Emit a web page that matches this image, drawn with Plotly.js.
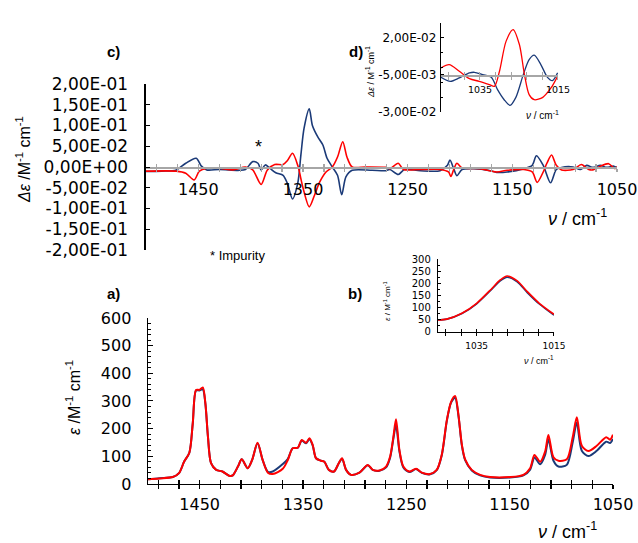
<!DOCTYPE html>
<html><head><meta charset="utf-8">
<script src="https://cdn.plot.ly/plotly-3.0.1.min.js"></script>
<style>html,body{margin:0;padding:0;background:#fff}#chart{width:638px;height:543px}</style>
</head><body><div id="chart"></div>
<script>
// ---------- Panel c (VCD, main) ----------
var c_nu_blue = [1500,1485,1471,1462,1452,1447,1442,1430,1411,1405,1398,1393,1390,1386,1382,1376,1369,1365,1360,1355,1352,1349,1344,1341,1336,1331,1327,1322,1317,1313,1309,1303,1284,1271,1267,1259,1253,1238,1219,1212,1209.6,1206,1203,1198,1187,1171,1165,1155,1139,1131,1127,1120.5,1113.5,1108,1103,1092,1085,1079,1073,1066,1060,1053,1050];
var c_blue = [-0.011,-0.010,-0.007,0.009,0.021,0.002,-0.007,-0.006,-0.008,-0.006,0.013,0.009,-0.007,0.005,-0.002,-0.014,-0.020,-0.039,-0.077,-0.039,0.029,0.093,0.140,0.100,0.073,0.053,0.021,0.000,-0.020,-0.067,-0.024,-0.008,-0.008,-0.009,-0.006,-0.018,-0.006,-0.009,-0.009,0.004,0.017,-0.004,-0.021,-0.006,-0.004,-0.009,-0.013,-0.012,-0.004,0.004,0.027,0.004,-0.038,-0.006,-0.001,0.000,-0.006,0.004,-0.001,0.004,-0.001,0.002,-0.002];
var c_nu_red = [1500,1471,1462,1454,1449,1442,1430,1417,1405,1398,1390,1384,1377,1369,1365,1360,1355,1350,1344,1339,1334,1328,1322,1317,1312,1308,1303,1290,1271,1267,1259,1254,1238,1219,1211,1208.7,1206,1203,1198,1181,1165,1155,1139,1131,1126.3,1120.5,1117,1112.5,1108,1103,1092,1084,1077,1073,1066,1058,1052,1050];
var c_red = [-0.010,-0.010,-0.015,-0.031,-0.010,-0.003,-0.003,-0.007,0.000,-0.007,-0.042,-0.007,0.006,0.006,0.015,0.033,0.004,-0.050,-0.096,-0.068,-0.036,-0.012,0.000,0.024,0.061,0.024,0.000,0.000,-0.001,-0.004,0.009,-0.006,-0.006,-0.006,-0.012,-0.023,-0.006,0.009,-0.002,-0.004,-0.012,-0.008,-0.006,-0.012,-0.037,-0.012,0.009,0.029,0.004,-0.007,-0.006,0.006,-0.006,-0.007,0.002,0.008,-0.004,0.001];
var c_ytickvals = [-0.2,-0.15,-0.1,-0.05,0,0.05,0.1,0.15,0.2];
var c_yticktext = ["-2,00E-01","-1,50E-01","-1,00E-01","-5,00E-02","0,00E+00","5,00E-02","1,00E-01","1,50E-01","2,00E-01"];
var main_xtickvals = [1450,1350,1250,1150,1050];

// ---------- Panel d (VCD, inset) ----------
var d_nu_red = [1045,1042.9,1040.3,1037.7,1035.2,1032.6,1031.3,1030,1028.3,1026.5,1024.9,1023.6,1022.4,1021.1,1018.9,1016.8,1015.1];
var d_red = [-0.0003,0.002,-0.0025,-0.0075,-0.0093,-0.0115,-0.0127,-0.0025,0.0178,0.0256,0.0155,-0.0048,-0.0183,-0.0217,-0.0201,-0.0138,-0.0059];
var d_nu_blue = [1045,1042.6,1040.3,1037.7,1036.4,1034.3,1032.1,1030.5,1028.8,1027.3,1025.8,1023.9,1022.4,1021.1,1019.4,1017.7,1016.4,1015.1];
var d_blue = [-0.0066,-0.0093,-0.007,-0.0036,-0.0032,-0.0048,-0.0066,-0.0149,-0.0217,-0.0255,-0.0201,-0.0048,0.0053,0.0083,0.002,-0.0066,-0.0088,-0.0036];
var d_ytickvals = [-0.03,-0.005,0.02];
var d_yticktext = ["-3,00E-02","-5,00E-03","2,00E-02"];
var inset_xtickvals = [1035,1015];

// ---------- Panel a (IR, main) ----------
var a_nu = [1500,1489,1476,1470,1465,1460,1456.7,1453.5,1450.3,1447,1444.5,1442,1439,1434,1428,1421,1418,1413,1409.3,1403.5,1399.3,1394,1389,1384,1379.3,1369.6,1364.8,1360,1355,1351.2,1347,1343.8,1340.6,1337.4,1332.5,1329.3,1325,1320,1315.4,1312.2,1308.3,1303.5,1295.4,1287.3,1282.5,1276,1269.6,1265.7,1262.5,1260,1256.7,1252.9,1247,1240.6,1235,1227,1220.6,1215.7,1210.8,1206.7,1202.8,1199.6,1196.3,1193.1,1186.7,1178.6,1169,1149.6,1136.7,1130.2,1126,1120.5,1115.7,1112.5,1107.6,1102.8,1094.7,1088.9,1085,1080.2,1073.8,1065.7,1056.6,1052.8,1050];
var a_red = [17,20,25,39,81,113,219,340,340,349,292,171,75,51,45,29,31,63,89,57,86,149,86,41,36,55,86,129,131,159,149,165,141,93,84,80,51,45,75,93,51,33,41,69,51,49,63,99,171,234,123,63,45,55,41,36,51,106,231,297,318,251,143,89,51,33,25,25,33,57,105,80,117,177,96,84,89,171,241,138,119,138,169,160,178];
var a_blue = [17,21,25,39,81,113,219,338,338,342,290,171,75,51,45,29,31,63,89,57,86,147,86,44,45,72,90,129,131,157,147,162,139,93,84,80,51,45,75,91,51,33,41,68,51,48,60,95,165,213,118,60,43,54,40,35,50,104,228,294,312,247,140,86,49,31,23,23,31,52,96,71,105,161,84,63,69,153,222,120,101,120,153,148,163];

// ---------- Panel b (IR, inset) ----------
var b_nu = [1045,1042.7,1038.8,1035,1031,1028.9,1027.1,1024.5,1021.9,1018.8,1015];
var b_red = [49,53,77,118,180,214,230,210,166,118,73];
var b_blue = [49,53,76,116,177,210,225,206,162,115,69];

var BLUE = '#1b3a78', RED = '#ff0000', GRAY = '#a6a6a6';
var FONT = 'DejaVu Sans';

function line(x, y, xa, ya, color, w) {
  return {x: x, y: y, xaxis: xa, yaxis: ya, type: 'scatter', mode: 'lines',
          line: {color: color, width: w, shape: 'spline', smoothing: 0.8}, hoverinfo: 'skip', showlegend: false};
}
var traces = [
  line(c_nu_blue, c_blue, 'x', 'y', BLUE, 1.6),
  line(c_nu_red, c_red, 'x', 'y', RED, 1.6),
  line(a_nu, a_blue, 'x2', 'y2', BLUE, 2),
  line(a_nu, a_red, 'x2', 'y2', RED, 2),
  line(b_nu, b_blue, 'x3', 'y3', BLUE, 1.6),
  line(b_nu, b_red, 'x3', 'y3', RED, 1.6),
  line(d_nu_blue, d_blue, 'x4', 'y4', BLUE, 1.3),
  line(d_nu_red, d_red, 'x4', 'y4', RED, 1.3),
  {x: [null], y: [null], xaxis: 'x5', yaxis: 'y', type: 'scatter', mode: 'lines', showlegend: false, hoverinfo: 'skip'},
  {x: [null], y: [null], xaxis: 'x6', yaxis: 'y2', type: 'scatter', mode: 'lines', showlegend: false, hoverinfo: 'skip'},
  {x: [null], y: [null], xaxis: 'x7', yaxis: 'y3', type: 'scatter', mode: 'lines', showlegend: false, hoverinfo: 'skip'},
  {x: [null], y: [null], xaxis: 'x8', yaxis: 'y4', type: 'scatter', mode: 'lines', showlegend: false, hoverinfo: 'skip'}
];

var base = {showgrid: false, zeroline: false, fixedrange: true, automargin: false};
function ax(o) { return Object.assign({}, base, o); }

var layout = {
  width: 638, height: 543, margin: {l: 0, r: 0, t: 0, b: 0},
  paper_bgcolor: '#fff', plot_bgcolor: 'rgba(0,0,0,0)', showlegend: false,
  font: {family: FONT, color: '#000'},
  // panel c
  xaxis: ax({domain: [0.2288, 0.9671], range: [1500, 1050], anchor: 'free', position: 0.6924,
    showline: true, linecolor: GRAY, linewidth: 1.5, ticks: 'outside', ticklen: 3, tickcolor: GRAY, tickwidth: 1.2,
    tickmode: 'array', tickvals: main_xtickvals, tickfont: {size: 16, family: FONT}, ticklabelstandoff: 4,
    minor: {dtick: 20, tick0: 1450, ticks: 'outside', ticklen: 3, tickcolor: GRAY, tickwidth: 1.2}}),
  xaxis5: ax({overlaying: 'x', domain: [0.2288, 0.9671], range: [1500, 1050], anchor: 'free', position: 0.6924,
    showline: false, ticks: 'inside', ticklen: 3, tickcolor: GRAY, tickwidth: 1.2, dtick: 20, tick0: 1450, showticklabels: false}),
  yaxis: ax({domain: [0.5396, 0.8453], range: [-0.2, 0.2], anchor: 'x', showline: true, linecolor: '#000', linewidth: 1.5,
    ticks: 'inside', ticklen: 4, tickcolor: '#000', tickmode: 'array', tickvals: c_ytickvals, ticktext: c_yticktext,
    tickfont: {size: 17, family: FONT}, ticklabelstandoff: 13}),
  // panel a
  xaxis2: ax({domain: [0.2320, 0.9608], range: [1500, 1050], anchor: 'y2',
    showline: true, linecolor: '#000', linewidth: 1.5, ticks: 'outside', ticklen: 3.5, tickcolor: '#000', tickwidth: 1.3,
    tickmode: 'array', tickvals: main_xtickvals, tickfont: {size: 16, family: FONT}, ticklabelstandoff: 2,
    minor: {dtick: 20, tick0: 1450, ticks: 'outside', ticklen: 3.5, tickcolor: '#000', tickwidth: 1.3}}),
  xaxis6: ax({overlaying: 'x2', domain: [0.2320, 0.9608], range: [1500, 1050], anchor: 'y2',
    showline: false, ticks: 'inside', ticklen: 3.5, tickcolor: '#000', tickwidth: 1.3, dtick: 20, tick0: 1450, showticklabels: false}),
  yaxis2: ax({domain: [0.1087, 0.4144], range: [0, 600], anchor: 'x2', showline: true, linecolor: '#000', linewidth: 1.5,
    ticks: 'inside', ticklen: 5, tickcolor: '#000', dtick: 100, tick0: 0, tickfont: {size: 16, family: FONT}, ticklabelstandoff: 12,
    minor: {dtick: 20, ticks: 'inside', ticklen: 3, tickcolor: '#000'}}),
  // panel b
  xaxis3: ax({domain: [0.6865, 0.8683], range: [1045, 1015], anchor: 'y3',
    showline: true, linecolor: '#000', linewidth: 1.2, ticks: 'outside', ticklen: 3, tickcolor: '#000',
    tickmode: 'array', tickvals: inset_xtickvals, tickfont: {size: 9, family: FONT}, ticklabelstandoff: 2,
    minor: {dtick: 4, tick0: 1015, ticks: 'outside', ticklen: 3, tickcolor: '#000'}}),
  xaxis7: ax({overlaying: 'x3', domain: [0.6865, 0.8683], range: [1045, 1015], anchor: 'y3',
    showline: false, ticks: 'inside', ticklen: 3, tickcolor: '#000', dtick: 4, tick0: 1015, showticklabels: false}),
  yaxis3: ax({domain: [0.3886, 0.5230], range: [0, 300], anchor: 'x3', showline: true, linecolor: '#000', linewidth: 1.2,
    ticks: 'inside', ticklen: 3, tickcolor: '#000', dtick: 50, tick0: 0, tickfont: {size: 10, family: FONT}, ticklabelstandoff: 4,
    minor: {dtick: 25, ticks: 'inside', ticklen: 2, tickcolor: '#000'}}),
  // panel d
  xaxis4: ax({domain: [0.6912, 0.8746], range: [1045, 1015], anchor: 'free', position: 0.8613,
    showline: true, linecolor: GRAY, linewidth: 1.2, ticks: 'outside', ticklen: 3, tickcolor: GRAY,
    tickmode: 'array', tickvals: inset_xtickvals, tickfont: {size: 9.5, family: FONT}, ticklabelstandoff: 2,
    minor: {dtick: 4, tick0: 1015, ticks: 'outside', ticklen: 3, tickcolor: GRAY}}),
  xaxis8: ax({overlaying: 'x4', domain: [0.6912, 0.8746], range: [1045, 1015], anchor: 'free', position: 0.8613,
    showline: false, ticks: 'inside', ticklen: 3, tickcolor: GRAY, dtick: 4, tick0: 1015, showticklabels: false}),
  yaxis4: ax({domain: [0.7937, 0.9576], range: [-0.03, 0.03], anchor: 'x4', showline: true, linecolor: '#000', linewidth: 1.2,
    ticks: 'inside', ticklen: 3, tickcolor: '#000', tickmode: 'array', tickvals: d_ytickvals, ticktext: d_yticktext,
    tickfont: {size: 12, family: FONT}, ticklabelstandoff: 1,
    minor: {dtick: 0.01, tick0: 0, ticks: 'inside', ticklen: 2, tickcolor: '#000'}}),
  annotations: []
};

function ann(text, x, y, size, opts) {
  var a = {text: text, x: x / 638, y: 1 - y / 543, xref: 'paper', yref: 'paper', showarrow: false,
           xanchor: 'center', yanchor: 'middle', font: {size: size, family: 'Liberation Sans', color: '#000'}};
  return Object.assign(a, opts || {});
}
var unit = 'M<sup>-1</sup> cm<sup>-1</sup>';
layout.annotations.push(
  ann('<b>c)</b>', 114, 52, 15),
  ann('<b>d)</b>', 356, 52, 15),
  ann('<b>a)</b>', 114, 293, 15),
  ann('<b>b)</b>', 355, 293, 15),
  ann('*', 258, 147, 18),
  ann('* Impurity', 237, 255, 13),
  ann('<i>ν</i> / cm<sup>-1</sup>', 577, 217, 18),
  ann('<i>ν</i> / cm<sup>-1</sup>', 567, 530, 18),
  ann('<i>Δε</i> /' + unit, 23, 160, 16, {textangle: -90}),
  ann('<i>ε</i> /' + unit, 73, 398, 16, {textangle: -90}),
  ann('<i>ν</i> / cm<sup>-1</sup>', 542, 115, 10),
  ann('<i>ν</i> / cm<sup>-1</sup>', 539, 360, 9),
  ann('<i>Δε</i> / ' + unit, 370, 72, 9, {textangle: -90}),
  ann('<i>ε</i> / ' + unit, 387, 301, 8, {textangle: -90})
);

Plotly.newPlot('chart', traces, layout, {staticPlot: true, displayModeBar: false});
</script>
</body></html>
